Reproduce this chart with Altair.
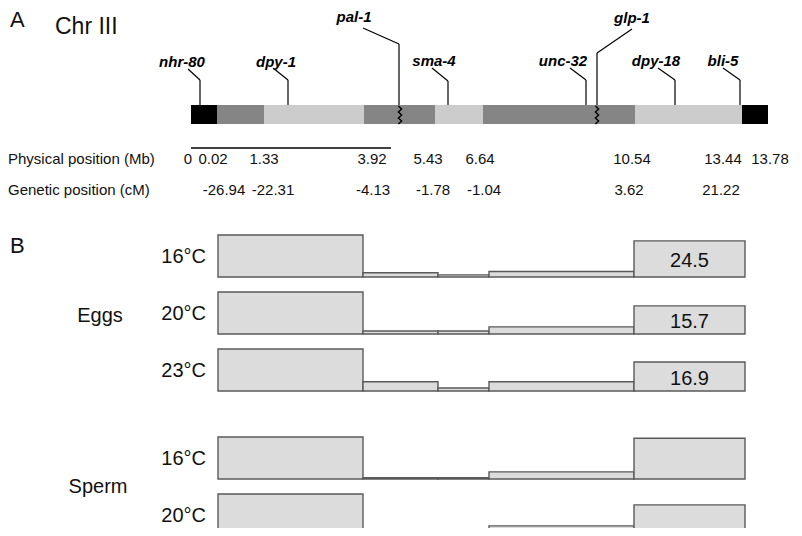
import altair as alt
import pandas as pd

# ---------------- Panel A: chromosome III schematic (layout units = page px) -------------
seg_start = [191, 217, 264, 364, 435, 483, 635, 742]
seg_end = [217, 264, 364, 435, 483, 635, 742, 768]
seg_shade = ["black", "dark", "light", "dark", "light", "dark", "light", "black"]
shade_colors = {"black": "#000000", "dark": "#858585", "light": "#cccccc"}

gene_names = ["nhr-80", "dpy-1", "pal-1", "sma-4", "unc-32", "glp-1", "dpy-18", "bli-5"]
gene_label_x = [182, 276, 354, 434, 563, 632, 656, 723]
gene_label_y = [62, 62, 17, 61, 61, 18, 61, 61]
gene_lead_x = [188, 273, 363, 432, 570, 632, 658, 723]
gene_lead_y = [69, 68, 28, 68, 68, 29, 68, 68]
gene_pos_x = [200, 288, 399, 448, 586, 597, 675, 740]
gene_elbow_y = [80, 80, 44, 81, 80, 53, 80, 80]

break_x = [400, 597]

phys_labels = ["0", "0.02", "1.33", "3.92", "5.43", "6.64", "10.54", "13.44", "13.78"]
phys_x = [188, 213, 264, 372, 428, 480, 632, 723, 770]
gen_labels = ["-26.94", "-22.31", "-4.13", "-1.78", "-1.04", "3.62", "21.22"]
gen_x = [224, 273, 373, 433, 484, 629, 721]

# ---------------- Panel B: interval profiles -------------
row_temp = ["16°C", "20°C", "23°C", "16°C", "20°C"]
row_group = ["Eggs", "Eggs", "Eggs", "Sperm", "Sperm"]
row_base = [277, 334, 391, 479, 536]
interval_edges = [218, 363, 438, 489, 634, 745]
# relative heights of the five intervals (first interval = 100)
row_heights = [
    [100, 10, 5, 13, 86],
    [100, 7, 7, 17, 67],
    [100, 22, 7, 22, 69],
    [100, 3, 3, 17, 97],
    [100, 7, 10, 24, 74],
]
row_value = ["24.5", "15.7", "16.9", "", ""]
group_names = ["Eggs", "Sperm"]
group_x = [100, 98]
group_y = [316, 487]
unit_px = 0.42

W, H = 786, 520
xs = alt.Scale(domain=[8, 8 + W], nice=False, zero=False)
ys = alt.Scale(domain=[8, 8 + H], nice=False, zero=False, reverse=True)


def X(f):
    return alt.X(f, type="quantitative", scale=xs, axis=None)


def Y(f):
    return alt.Y(f, type="quantitative", scale=ys, axis=None)


FONT = "Liberation Sans"

# chromosome segments
seg_df = pd.DataFrame({"x": seg_start, "x2": seg_end, "shade": seg_shade,
                       "y": 105, "y2": 124})
seg_df["color"] = seg_df["shade"].map(shade_colors)
chrom = alt.Chart(seg_df).mark_rect().encode(
    x=X("x"), x2="x2", y=Y("y"), y2="y2", color=alt.Color("color:N", scale=None))

# break marks (zigzag)
zz = []
for b, bx in enumerate(break_x):
    for i, yy in enumerate(range(106, 125, 3)):
        zz.append({"id": b, "i": i, "x": bx + (1.6 if i % 2 else -1.6), "y": yy})
zz_df = pd.DataFrame(zz)
zig = alt.Chart(zz_df).mark_line(color="black", strokeWidth=1.4).encode(
    x=X("x"), y=Y("y"), detail="id:N", order="i:Q")

# gene leader lines
lead = []
for n, lx, ly, px, ey in zip(gene_names, gene_lead_x, gene_lead_y, gene_pos_x, gene_elbow_y):
    lead.append({"x": lx, "y": ly, "x2": px, "y2": ey})
    lead.append({"x": px, "y": ey, "x2": px, "y2": 105})
lead_df = pd.DataFrame(lead)
leaders = alt.Chart(lead_df).mark_rule(color="black", strokeWidth=1.2).encode(
    x=X("x"), y=Y("y"), x2="x2", y2="y2")

gene_df = pd.DataFrame({"name": gene_names, "x": gene_label_x, "y": gene_label_y})
gene_text = alt.Chart(gene_df).mark_text(
    font=FONT, fontSize=15, fontStyle="italic", fontWeight="bold", baseline="middle",
    align="center", color="black").encode(x=X("x"), y=Y("y"), text="name:N")

# underline
ul_df = pd.DataFrame({"x": [191], "x2": [391], "y": [148]})
underline = alt.Chart(ul_df).mark_rule(color="black", strokeWidth=1.5).encode(
    x=X("x"), x2="x2", y=Y("y"))

pos_df = pd.concat([
    pd.DataFrame({"t": phys_labels, "x": phys_x, "y": 159}),
    pd.DataFrame({"t": gen_labels, "x": gen_x, "y": 190}),
])
pos_text = alt.Chart(pos_df).mark_text(
    font=FONT, fontSize=15, baseline="middle", align="center", color="#111").encode(
    x=X("x"), y=Y("y"), text="t:N")

left_df = pd.DataFrame({"t": ["Physical position (Mb)", "Genetic position (cM)"],
                        "x": [8, 8], "y": [159, 190]})
left_text = alt.Chart(left_df).mark_text(
    font=FONT, fontSize=15, baseline="middle", align="left", color="#111").encode(
    x=X("x"), y=Y("y"), text="t:N")

title_df = pd.DataFrame({"t": ["A", "B"], "x": [10, 10], "y": [20, 246]})
panel_text = alt.Chart(title_df).mark_text(
    font=FONT, fontSize=22, baseline="middle", align="left", color="#111").encode(
    x=X("x"), y=Y("y"), text="t:N")
chr_df = pd.DataFrame({"t": ["Chr III"], "x": [55], "y": [27]})
chr_text = alt.Chart(chr_df).mark_text(
    font=FONT, fontSize=23, baseline="middle", align="left", color="#111").encode(
    x=X("x"), y=Y("y"), text="t:N")

# panel B rects
bars = []
for r, (base, hs) in enumerate(zip(row_base, row_heights)):
    for k, h in enumerate(hs):
        bars.append({"row": r, "k": k, "x": interval_edges[k], "x2": interval_edges[k + 1],
                     "y": base - h * unit_px, "y2": base})
bars_df = pd.DataFrame(bars)
profile = alt.Chart(bars_df).mark_rect(
    fill="#dcdcdc", stroke="#5a5a5a", strokeWidth=1.4).encode(
    x=X("x"), x2="x2", y=Y("y"), y2="y2")

temp_df = pd.DataFrame({"t": row_temp, "x": 206, "y": [b - 20 for b in row_base]})
temp_text = alt.Chart(temp_df).mark_text(
    font=FONT, fontSize=20, baseline="middle", align="right", color="#111").encode(
    x=X("x"), y=Y("y"), text="t:N")

val_df = pd.DataFrame({
    "t": row_value,
    "x": (interval_edges[4] + interval_edges[5]) / 2,
    "y": [b - h[4] * unit_px / 2 + 2 for b, h in zip(row_base, row_heights)],
})
val_df = val_df[val_df["t"] != ""]
val_text = alt.Chart(val_df).mark_text(
    font=FONT, fontSize=20, baseline="middle", align="center", color="#111").encode(
    x=X("x"), y=Y("y"), text="t:N")

grp_df = pd.DataFrame({"t": group_names, "x": group_x, "y": group_y})
grp_text = alt.Chart(grp_df).mark_text(
    font=FONT, fontSize=20, baseline="middle", align="center", color="#111").encode(
    x=X("x"), y=Y("y"), text="t:N")

chart = alt.layer(
    chrom, zig, leaders, gene_text, underline, pos_text, left_text, panel_text, chr_text,
    profile, temp_text, val_text, grp_text,
).properties(width=W, height=H, padding=0, autosize="none").configure_view(stroke=None)

chart.save("out.html", embed_options={"renderer": "svg", "actions": False})
